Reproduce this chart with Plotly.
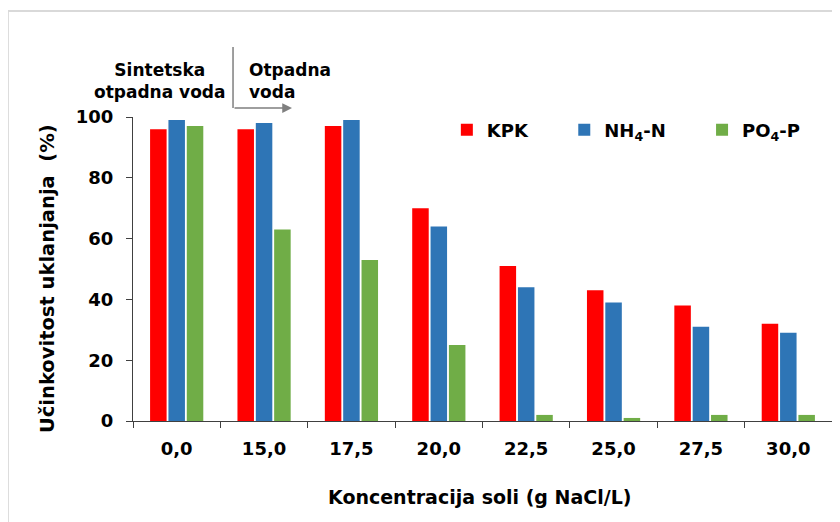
import plotly.graph_objects as go

categories = ["0,0", "15,0", "17,5", "20,0", "22,5", "25,0", "27,5", "30,0"]
kpk = [96, 96, 97, 70, 51, 43, 38, 32]
nh4n = [99, 98, 99, 64, 44, 39, 31, 29]
po4p = [97, 63, 53, 25, 2, 1, 2, 2]

PAD = "\u00a0" * 5
series_names = ["KPK" + PAD, "NH<sub>4</sub>-N" + PAD, "PO<sub>4</sub>-P"]
colors = ["#FF0000", "#2E75B6", "#70AD47"]

x_title = "Koncentracija soli (g NaCl/L)"
y_title = "Učinkovitost uklanjanja  (%)"

FONT = "DejaVu Sans"
AX = "#404040"

fig = go.Figure()
for name, vals, col in zip(series_names, [kpk, nh4n, po4p], colors):
    fig.add_trace(go.Bar(x=categories, y=vals, name=name, marker_color=col,
                         marker_line_width=0))

fig.update_layout(
    width=832, height=514,
    margin=dict(l=125, r=8, t=109, b=101),
    paper_bgcolor="white", plot_bgcolor="white",
    barmode="group", bargap=0.37, bargroupgap=0.1,
    font=dict(family=FONT, size=17, color="#000000"),
    legend=dict(orientation="h", x=0.449, y=0.957, xanchor="left", yanchor="middle",
                font=dict(size=18, family=FONT, weight="bold"),
                bgcolor="rgba(0,0,0,0)"),
    showlegend=True,
)
fig.update_xaxes(type="category", range=[-0.5, 7.5], showline=True, linecolor=AX, linewidth=1.3,
                 ticks="outside", tickson="boundaries", ticklen=6, tickcolor=AX,
                 ticklabelstandoff=11,
                 tickfont=dict(size=18, family=FONT, weight="bold"),
                 showgrid=False, zeroline=False)
fig.update_yaxes(range=[0, 100], dtick=20, showline=True, linecolor=AX, linewidth=1.3,
                 ticks="outside", ticklen=6, tickcolor=AX,
                 ticklabelstandoff=9,
                 tickfont=dict(size=18, family=FONT, weight="bold"),
                 showgrid=False, zeroline=False)

# axis titles
fig.add_annotation(xref="paper", yref="paper", x=0.496, y=-0.25, xanchor="center", yanchor="middle",
                   text=x_title, showarrow=False, font=dict(size=19, family=FONT, weight="bold"))
fig.add_annotation(xref="paper", yref="paper", x=-0.123, y=0.467, xanchor="center", yanchor="middle",
                   text=y_title, textangle=-90, showarrow=False,
                   font=dict(size=19.5, family=FONT, weight="bold"))

# light frame (top and left)
fig.add_shape(type="line", xref="paper", yref="paper", x0=-0.179, x1=1.02, y0=1.349, y1=1.349,
              line=dict(color="#D9D9D9", width=2))
fig.add_shape(type="line", xref="paper", yref="paper", x0=-0.179, x1=-0.179, y0=1.349, y1=-0.35,
              line=dict(color="#D9D9D9", width=2))

# divider and arrow
fig.add_shape(type="line", xref="paper", yref="paper", x0=0.1431, x1=0.1431, y0=1.0296, y1=1.2303,
              line=dict(color="#7F7F7F", width=1.5))
fig.add_annotation(xref="paper", yref="paper", x=0.2275, y=1.0296, ax=-59, ay=0, axref="pixel", ayref="pixel",
                   text="", showarrow=True, arrowhead=2, arrowsize=1.3, arrowwidth=1.5, arrowcolor="#7F7F7F")
fig.add_annotation(xref="paper", yref="paper", x=0.039, y=1.118, xanchor="center", yanchor="middle",
                   text="Sintetska<br>otpadna voda", showarrow=False,
                   font=dict(size=17, family=FONT, weight="bold"))
fig.add_annotation(xref="paper", yref="paper", x=0.163, y=1.118, xanchor="left", yanchor="middle", align="left",
                   text="Otpadna<br>voda", showarrow=False,
                   font=dict(size=17, family=FONT, weight="bold"))

fig.write_html("out.html")
